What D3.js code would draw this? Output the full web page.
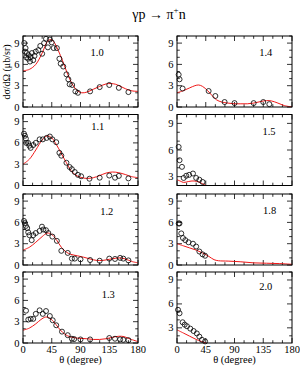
<!DOCTYPE html>
<html><head><meta charset="utf-8">
<script src="https://cdn.jsdelivr.net/npm/d3@7"></script>
<style>
html,body{margin:0;padding:0;background:#fff;}
svg text{font-family:"Liberation Serif","DejaVu Serif","Times New Roman",serif;}
</style></head>
<body>
<svg id="chart" width="300" height="369"></svg>
<script>
// ---------- data ----------
const energies = ["1.0","1.1","1.2","1.3","1.4","1.5","1.8","2.0"];
const xTicks = [0,45,90,135,180];
const yTicks = [0,3,6,9];
const yDomains = [[0,10],[0,10],[0,10],[0,10],[0,10],[2,10],[0,10],[1.1,10]];

const pts10 = [[2,9.0],[3,7.8],[4,8.3],[5,7.0],[6,7.6],[8,6.8],[9,7.3],[11,6.4],[12,7.0],[14,7.6],[16,6.6],[18,7.2],[20,7.8],[24,8.0],[27,8.6],[30,7.5],[33,9.0],[36,9.6],[39,8.4],[42,9.5],[45,9.1],[48,8.3],[53,8.3],[57,6.8],[59,6.1],[63,5.7],[68,4.6],[71,3.9],[73,3.2],[77,3.1],[82,2.2],[86,2.0],[105,2.2],[120,2.8],[135,3.1],[150,2.7],[165,2.1]];
const pts11 = [[1.5,7.3],[3,7.0],[4.5,6.6],[5,6.0],[8,6.0],[10,5.6],[12,5.3],[16,5.7],[20,6.0],[26,6.5],[31,6.5],[37,6.7],[42,6.9],[46,6.5],[52,6.1],[57,4.6],[60,4.2],[68,3.2],[73,2.6],[76.5,2.3],[81,1.9],[86,1.5],[91,1.3],[104,0.95],[120,1.1],[135,1.4],[144,1.1],[150,1.35],[165,1.0]];
const pts12 = [[1.6,6.2],[3,5.9],[4.5,5.5],[6.6,5.2],[8.2,4.6],[10,4.2],[13.6,3.5],[16,4.2],[20,4.5],[26,4.8],[29.7,5.4],[31.8,5.0],[36,4.9],[39.6,4.5],[46,4.0],[53,3.4],[60,2.0],[70,1.7],[76.5,0.9],[81,0.9],[90,0.8],[105,0.7],[120,0.6],[135,0.9],[144,0.85],[152,1.0],[157,0.9],[165,0.65]];
const pts13 = [[4.7,4.55],[8.3,3.3],[12,3.4],[16,3.4],[20,4.1],[26,4.6],[31,4.1],[36,4.5],[42,3.8],[46.5,3.2],[52,2.5],[61,1.6],[70,1.1],[76.5,0.6],[80,0.55],[90,0.5],[105,0.5],[135,0.7],[144,0.6],[152,0.5],[157,0.45],[165,0.4]];
const pts14 = [[2.6,4.55],[4,3.9],[8.8,2.6],[49.5,2.25],[60,1.55],[74.5,0.7],[90,0.55],[120,0.55],[135,0.7],[144.5,0.4]];
const pts15 = [[2.6,6.35],[4,4.85],[7.8,4.1],[10.4,2.85],[14.5,3.1],[19,3.2],[25,3.35],[30,2.85],[35,2.65],[40,2.4]];
const pts18 = [[2.6,5.85],[3.9,5.85],[6.7,4.45],[9.3,3.8],[13,3.5],[18,3.2],[25,3.0],[30,2.6],[35,1.9],[40,1.5],[44,1.3]];
const pts20 = [[1.6,5.26],[4,4.83],[8.8,3.7],[12,3.4],[15.6,3.2],[20.8,2.9],[26,2.6],[31,2.3],[35,1.9],[39,1.5],[44,1.3]];

const fit10 = [[0,5.1],[10,5.3],[20,6.0],[30,7.6],[38,9.2],[43,9.5],[48,9.2],[55,8.0],[62,6.5],[70,4.6],[78,3.1],[85,2.3],[92,2.0],[100,2.1],[110,2.5],[120,2.9],[130,3.25],[138,3.3],[145,3.2],[155,2.8],[165,2.4],[172,2.25],[180,2.2]];
const fit11 = [[0,3.0],[10,3.7],[20,5.0],[30,6.4],[38,7.0],[45,6.7],[52,5.8],[60,4.5],[68,3.2],[75,2.1],[82,1.5],[90,1.15],[100,1.0],[110,1.1],[120,1.4],[130,1.75],[140,1.9],[150,1.8],[160,1.55],[170,1.25],[180,1.1]];
const fit12 = [[0,2.1],[10,2.5],[20,3.2],[30,4.0],[38,4.5],[45,4.3],[52,3.6],[60,2.5],[68,1.8],[75,1.5],[85,1.3],[95,1.1],[105,0.85],[115,0.65],[125,0.65],[135,0.8],[145,0.95],[152,1.0],[160,0.85],[170,0.5],[180,0.3]];
const fit13 = [[0,1.8],[10,2.1],[20,2.7],[28,3.3],[35,3.65],[40,3.6],[48,3.0],[55,2.2],[62,1.5],[70,1.0],[80,0.75],[90,0.65],[100,0.6],[110,0.5],[120,0.5],[130,0.6],[140,0.8],[150,0.95],[158,0.9],[168,0.55],[180,0.2]];
const fit14 = [[0,2.0],[10,2.3],[20,2.7],[28,3.0],[34,3.1],[40,2.9],[48,2.3],[55,1.6],[62,1.0],[70,0.7],[80,0.55],[90,0.45],[100,0.45],[110,0.45],[120,0.55],[130,0.75],[140,0.9],[148,0.85],[158,0.55],[168,0.2],[180,0.0]];
const fit15 = [[0,2.65],[5,2.5],[10,2.35],[15,2.4],[22,2.5],[28,2.5],[34,2.4],[40,2.2],[45,2.0],[50,1.8]];
const fit18 = [[0,3.0],[10,2.7],[20,2.4],[30,2.1],[40,1.7],[50,1.2],[58,0.75],[65,0.6],[80,0.55],[100,0.45],[120,0.3],[140,0.25],[160,0.2],[180,0.1]];
const fit20 = [[0,2.75],[10,2.35],[20,1.95],[30,1.55],[38,1.3],[45,1.1],[50,0.9]];

const points = [pts10,pts11,pts12,pts13,pts14,pts15,pts18,pts20];
const fits = [fit10,fit11,fit12,fit13,fit14,fit15,fit18,fit20];
// label anchor in data coords (theta, value)
const labelAt = [[116,7.2],[117,7.8],[131,7.0],[133.5,6.4],[139,7.2],[144,7.7],[145,7.2],[139,7.74]];

// ---------- layout ----------
const FONT = "'Liberation Serif','DejaVu Serif',serif";
const svg = d3.select("#chart");
const colX = [23, 177], pw = 115;
const rowY = [36, 114.5, 194, 272], ph = 71;

svg.append("text").attr("x",159).attr("y",19).attr("text-anchor","middle").attr("font-family",FONT)
  .attr("font-size",14).html('γp → π<tspan dy="-6" font-size="9">+</tspan><tspan dy="6">n</tspan>');

svg.append("text").attr("transform","translate(10,72) rotate(-90)").attr("font-family",FONT)
  .attr("text-anchor","middle").attr("font-size",10).text("dσ/dΩ  (μb/sr)");

energies.forEach((e,i)=>{
  const col = i<4?0:1, row = i%4;
  const x0 = colX[col], y0 = rowY[row];
  const x = d3.scaleLinear().domain([0,180]).range([x0,x0+pw]);
  const y = d3.scaleLinear().domain(yDomains[i]).range([y0+ph,y0]);
  const g = svg.append("g").attr("font-family",FONT);
  const cid = "clip"+i;
  svg.append("clipPath").attr("id",cid).append("rect")
    .attr("x",x0).attr("y",y0).attr("width",pw).attr("height",ph);

  // ticks
  const xt = d3.range(0,181,15), ytk = d3.range(Math.ceil(yDomains[i][0]),Math.floor(yDomains[i][1])+0.001,1);
  const tk = g.append("g").attr("stroke","#000").attr("stroke-width",0.8);
  xt.forEach(t=>{
    const L = t%45===0?5:2.8;
    tk.append("line").attr("x1",x(t)).attr("x2",x(t)).attr("y1",y0+ph).attr("y2",y0+ph-L);
    tk.append("line").attr("x1",x(t)).attr("x2",x(t)).attr("y1",y0).attr("y2",y0+L);
  });
  ytk.forEach(t=>{
    const L = t%3===0?5:2.8;
    tk.append("line").attr("x1",x0).attr("x2",x0+L).attr("y1",y(t)).attr("y2",y(t));
    tk.append("line").attr("x1",x0+pw).attr("x2",x0+pw-L).attr("y1",y(t)).attr("y2",y(t));
  });
  // y tick labels
  yTicks.filter(t=>t>=yDomains[i][0]).forEach(t=>{
    g.append("text").attr("x",x0-3.5).attr("y",y(t)+3.5).attr("text-anchor","end")
      .attr("font-size",10.5).text(t);
  });
  // x tick labels for bottom row
  if(row===3){
    xTicks.forEach(t=>{
      g.append("text").attr("x",x(t)).attr("y",y0+ph+9.5).attr("text-anchor","middle")
        .attr("font-size",10.5).text(t);
    });
    g.append("text").attr("x",x0+pw/2).attr("y",363).attr("text-anchor","middle")
      .attr("font-size",10.5).text("θ  (degree)");
  }
  // curve
  const line = d3.line().x(d=>x(d[0])).y(d=>y(d[1])).curve(d3.curveCatmullRom.alpha(0.5));
  g.append("path").attr("clip-path",`url(#${cid})`).datum(fits[i]).attr("d",line)
    .attr("fill","none").attr("stroke","#f01818").attr("stroke-width",1);
  // points
  g.append("g").selectAll("circle").data(points[i]).join("circle")
    .attr("cx",d=>x(d[0])).attr("cy",d=>y(d[1])).attr("r",2.5)
    .attr("fill","none").attr("stroke","#000").attr("stroke-width",0.8);
  // frame
  g.append("rect").attr("x",x0).attr("y",y0).attr("width",pw).attr("height",ph)
    .attr("fill","none").attr("stroke","#000").attr("stroke-width",1);
  // energy label
  g.append("text").attr("x",x(labelAt[i][0])).attr("y",y(labelAt[i][1])).attr("text-anchor","middle")
    .attr("font-size",10.5).text(e);
});
</script>
</body></html>
